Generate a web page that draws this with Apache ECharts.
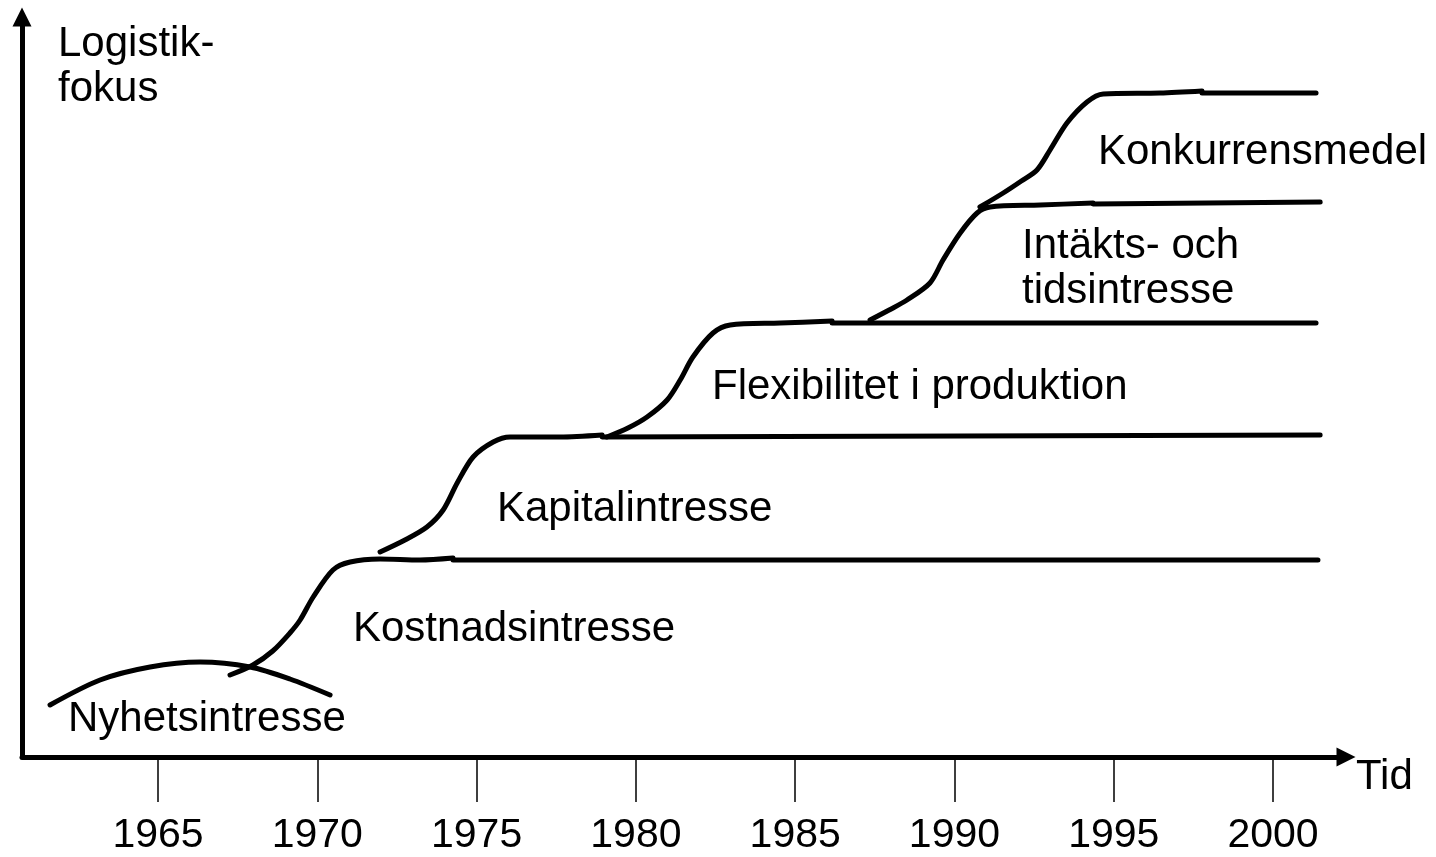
<!DOCTYPE html>
<html>
<head>
<meta charset="utf-8">
<script src="https://cdn.jsdelivr.net/npm/echarts@6/dist/echarts.min.js"></script>
<style>
html,body{margin:0;padding:0;background:#fff;}
#chart{width:1436px;height:857px;}
</style>
</head>
<body>
<div id="chart"></div>
<script>
// ---- Data (x = year, y = logistics focus level, arbitrary units) ----
const tickYears = [1965, 1970, 1975, 1980, 1985, 1990, 1995, 2000];

const nyhetsCurve = [[1961.61,5.2],[1963.18,7.7],[1964.75,9.0],[1966.32,9.5],[1967.89,9.0],[1969.14,7.8],[1970.40,6.2]];

const kostnadCurve = [[1967.26,8.2],[1967.98,9.2],[1968.60,10.6],[1969.14,12.4],[1969.46,13.7],[1969.87,16.0],[1970.49,18.7],[1971.03,19.5],[1971.97,19.8],[1973.22,19.7],[1974.26,19.9]];
const kostnadLevel = [[1974.26,19.7],[2001.41,19.7]];

const kapitalCurve = [[1971.97,20.5],[1972.75,21.7],[1973.44,23.0],[1973.95,24.7],[1974.39,27.4],[1974.89,30.0],[1975.52,31.5],[1976.05,32.0],[1977.62,32.0],[1978.94,32.2]];
const kapitalLevel = [[1978.94,32.0],[2001.48,32.2]];

const flexCurve = [[1979.09,32.0],[1979.75,32.9],[1980.35,34.0],[1980.98,35.7],[1981.39,37.7],[1981.79,40.0],[1982.42,42.4],[1982.96,43.2],[1984.53,43.4],[1986.16,43.6]];
const flexLevel = [[1986.16,43.4],[2001.35,43.4]];

const intaktsCurve = [[1987.35,43.7],[1987.95,44.7],[1988.51,45.7],[1989.23,47.4],[1989.64,49.7],[1990.18,52.4],[1990.71,54.4],[1991.12,55.0],[1992.69,55.2],[1994.35,55.4]];
const intaktsLevel = [[1994.35,55.3],[2001.48,55.5]];

const konkurrensCurve = [[1990.80,55.0],[1991.53,56.4],[1992.10,57.6],[1992.59,58.7],[1993.00,60.7],[1993.53,63.4],[1994.16,65.5],[1994.67,66.3],[1996.45,66.4],[1997.77,66.6]];
const konkurrensLevel = [[1997.77,66.4],[2001.35,66.4]];

const phaseLabels = ['Nyhetsintresse', 'Kostnadsintresse', 'Kapitalintresse', 'Flexibilitet i produktion', 'Intäkts- och\ntidsintresse', 'Konkurrensmedel'];
const xAxisName = 'Tid';
const yAxisName = 'Logistik-\nfokus';

// ---- Chart ----
const FONT = '"Liberation Sans", Arial, Helvetica, sans-serif';
const chart = echarts.init(document.getElementById('chart'), null, {renderer: 'canvas'});

function curve(data, smooth) {
  return {
    type: 'line', data: data, smooth: smooth ? 0.3 : false,
    showSymbol: false, symbol: 'none', silent: true,
    lineStyle: {color: '#000', width: 5, cap: 'round', join: 'round'},
    z: 3
  };
}

function label(text, left, top, lh) {
  return {
    type: 'text', left: left, top: top, silent: true,
    style: {text: text, font: '42px ' + FONT, fill: '#000', lineHeight: lh || 42}
  };
}

chart.setOption({
  animation: false,
  backgroundColor: '#fff',
  grid: {left: 22, right: 90, top: 17, bottom: 100, containLabel: false},
  xAxis: {
    type: 'value', min: 1960.73, max: 2002.29,
    splitLine: {show: false},
    axisLine: {show: true, onZero: false, symbol: ['none', 'triangle'], symbolSize: [19, 19],
      lineStyle: {color: '#000', width: 5}},
    axisTick: {show: true, customValues: tickYears, length: 45, lineStyle: {color: '#000', width: 1.5}},
    axisLabel: {show: true, customValues: tickYears, margin: 58, color: '#000',
      fontSize: 41, fontFamily: FONT, formatter: v => String(v)}
  },
  yAxis: {
    type: 'value', min: 0, max: 74,
    splitLine: {show: false},
    axisLine: {show: true, onZero: false, symbol: ['none', 'triangle'], symbolSize: [19, 19],
      lineStyle: {color: '#000', width: 5}},
    axisTick: {show: false},
    axisLabel: {show: false}
  },
  graphic: [
    label(yAxisName, 58, 22, 45),
    label(xAxisName, 1356, 756),
    label(phaseLabels[0], 68, 698),
    label(phaseLabels[1], 353, 608),
    label(phaseLabels[2], 497, 488),
    label(phaseLabels[3], 712, 366),
    label(phaseLabels[4], 1022, 224, 45),
    label(phaseLabels[5], 1098, 131)
  ],
  series: [
    curve(nyhetsCurve, true),
    curve(kostnadCurve, true), curve(kostnadLevel, false),
    curve(kapitalCurve, true), curve(kapitalLevel, false),
    curve(flexCurve, true), curve(flexLevel, false),
    curve(intaktsCurve, true), curve(intaktsLevel, false),
    curve(konkurrensCurve, true), curve(konkurrensLevel, false)
  ]
});
</script>
</body>
</html>
